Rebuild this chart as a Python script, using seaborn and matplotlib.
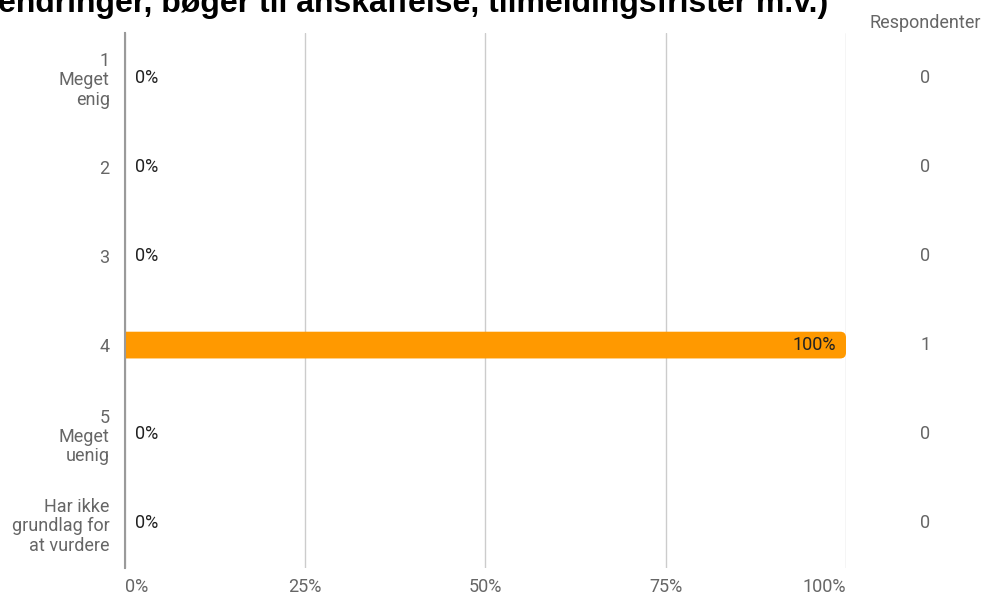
import numpy as np
import pandas as pd
import seaborn as sns
import matplotlib.pyplot as plt
from matplotlib.patches import FancyBboxPatch

categories = ['1\nMeget\nenig', '2', '3', '4', '5\nMeget\nuenig', 'Har ikke\ngrundlag for\nat vurdere']
shares = [0.0, 0.0, 0.0, 1.0, 0.0, 0.0]
counts = [0, 0, 0, 1, 0, 0]
tick_values = [0, 0.25, 0.5, 0.75, 1.0]
tick_labels = ['0%', '25%', '50%', '75%', '100%']
title = 'endringer, bøger til anskaffelse, tilmeldingsfrister m.v.)'

df = pd.DataFrame({'kategori': categories, 'andel': shares, 'antal': counts})

sns.set_style('white')
plt.rcParams['font.family'] = ['Roboto', 'DejaVu Sans']

fig = plt.figure(figsize=(9.95, 5.97), dpi=100)
ax = fig.add_axes([125 / 995, 1 - 568 / 597, 721 / 995, (568 - 33) / 597])

orange = '#ff9900'
sns.barplot(data=df, x='andel', y='kategori', orient='h', color=orange,
            width=0.30, saturation=1, ax=ax, zorder=3)

# round the right end of the bars, left end stays square at the axis
for p in list(ax.patches):
    x, y, w, h = p.get_x(), p.get_y(), p.get_width(), p.get_height()
    if w > 0:
        p.set_visible(False)
        r = 0.008
        fb = FancyBboxPatch((x - 0.03, y), w + 0.03, h,
                            boxstyle=f'round,pad=0,rounding_size={r}',
                            mutation_aspect=8.1, fc=orange, ec='none', zorder=3)
        ax.add_patch(fb)

ax.set_xlim(0, 1)
ax.set_ylim(5.5, -0.5)
ax.set_xticks(tick_values)
ax.set_xticklabels(tick_labels)
ax.set_xlabel('')
ax.set_ylabel('')
ax.grid(axis='x', color='#cccccc', linewidth=1, zorder=0)
ax.grid(axis='y', visible=False)
for s in ['top', 'right', 'bottom']:
    ax.spines[s].set_visible(False)
ax.spines['left'].set_color('#9a9a9a')
ax.spines['left'].set_linewidth(1.5)
ax.spines['left'].set_zorder(4)
ax.tick_params(axis='both', length=0, colors='#666666', labelsize=13)
ax.tick_params(axis='x', pad=7)
ax.tick_params(axis='y', pad=11)
xlabs = ax.get_xticklabels()
xlabs[0].set_horizontalalignment('left')
xlabs[0].set_x(-0.004)
xlabs[-1].set_horizontalalignment('right')
for lab in ax.get_yticklabels():
    lab.set_horizontalalignment('right')
    lab.set_multialignment('right')
    lab.set_linespacing(1.1)

for i, (v, n) in enumerate(zip(shares, counts)):
    txt = f'{v * 100:.0f}%'
    if v > 0.5:
        ax.text(v - 0.014, i, txt, ha='right', va='center', fontsize=13,
                color='#222222', zorder=5)
    else:
        ax.text(0.014, i, txt, ha='left', va='center', fontsize=13,
                color='#222222', zorder=5)
    ax.text(1.11, i, str(n), ha='center', va='center', fontsize=13,
            color='#666666', transform=ax.get_yaxis_transform())

fig.text(925 / 995, 1 - 23 / 597, 'Respondenter', ha='center', va='center',
         fontsize=13, color='#666666')

fig.text(-2 / 995, 1 - 12 / 597, title, ha='left', va='baseline',
         fontsize=23, fontweight='bold', color='black',
         family=['Liberation Sans', 'DejaVu Sans'])

fig.savefig('out.png', dpi=100)
